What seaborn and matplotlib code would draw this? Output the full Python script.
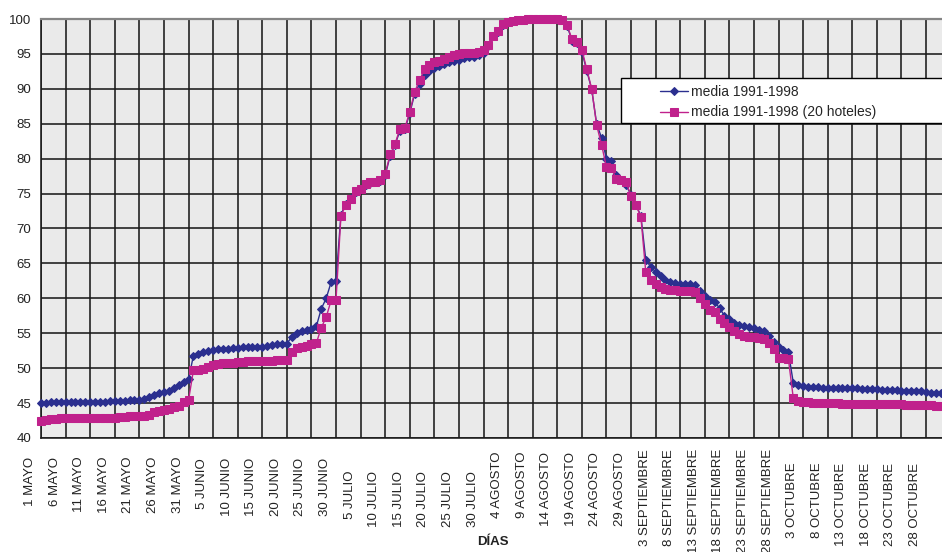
import numpy as np
import pandas as pd
import matplotlib
matplotlib.use('Agg')
import matplotlib.pyplot as plt
import matplotlib.transforms as mtransforms
from matplotlib.patches import Rectangle
import seaborn as sns

# Series names
serie_total = 'media 1991-1998'
serie_hoteles = 'media 1991-1998 (20 hoteles)'

# Daily occupancy, 1 May - 31 October
media_total = [
    # mayo
    45.0, 45.0, 45.1, 45.1, 45.1, 45.1, 45.2, 45.2, 45.2, 45.2,
    45.2, 45.2, 45.2, 45.2, 45.3, 45.3, 45.3, 45.3, 45.4, 45.4,
    45.4, 45.6, 45.8, 46.1, 46.4, 46.6, 46.8, 47.2, 47.6, 48.0,
    48.4,
    # junio
    51.8, 52.0, 52.3, 52.5, 52.6, 52.7, 52.8, 52.8, 52.9, 52.9,
    53.0, 53.0, 53.0, 53.1, 53.1, 53.2, 53.3, 53.4, 53.5, 53.5,
    54.5, 55.1, 55.3, 55.5, 55.6, 56.0, 58.5, 60.0, 62.3, 62.5,
    # julio
    72.0, 73.5, 74.3, 75.2, 75.6, 76.3, 76.5, 76.6, 76.8, 77.6,
    80.4, 82.0, 84.0, 84.2, 86.5, 89.3, 90.7, 92.0, 92.6, 93.0,
    93.3, 93.6, 93.8, 94.0, 94.2, 94.4, 94.5, 94.6, 94.8, 95.2,
    96.1,
    # agosto
    97.5, 98.2, 99.2, 99.5, 99.7, 99.8, 99.9, 100.0, 100.0, 100.0,
    100.0, 100.0, 100.0, 100.0, 99.8, 99.0, 96.9, 96.5, 95.3, 92.6,
    89.9, 85.0, 83.0, 80.0, 79.7, 77.7, 77.0, 76.2, 74.8, 73.4,
    71.8,
    # septiembre
    65.5, 64.5, 63.8, 63.2, 62.6, 62.3, 62.2, 62.1, 62.1, 62.0,
    61.9, 61.1, 60.4, 59.8, 59.5, 58.6, 57.5, 57.0, 56.5, 56.2,
    56.0, 55.9, 55.7, 55.5, 55.3, 54.6, 53.8, 53.1, 52.6, 52.3,
    # octubre
    47.9, 47.6, 47.4, 47.3, 47.3, 47.3, 47.2, 47.2, 47.2, 47.2,
    47.1, 47.1, 47.1, 47.1, 47.0, 47.0, 47.0, 47.0, 46.9, 46.9,
    46.9, 46.9, 46.8, 46.8, 46.8, 46.7, 46.7, 46.6, 46.5, 46.5,
    46.4,
]

media_20_hoteles = [
    # mayo
    42.5, 42.6, 42.7, 42.7, 42.8, 42.8, 42.8, 42.8, 42.8, 42.8,
    42.8, 42.8, 42.8, 42.8, 42.9, 42.9, 43.0, 43.0, 43.1, 43.1,
    43.1, 43.2, 43.3, 43.7, 43.9, 44.0, 44.2, 44.4, 44.6, 45.2,
    45.4,
    # junio
    49.7, 49.8, 49.9, 50.1, 50.4, 50.6, 50.7, 50.8, 50.8, 50.9,
    50.9, 51.0, 51.0, 51.0, 51.0, 51.0, 51.0, 51.1, 51.1, 51.1,
    52.3, 52.9, 53.1, 53.2, 53.4, 53.6, 55.8, 57.3, 59.7, 59.8,
    # julio
    71.8, 73.4, 74.2, 75.3, 75.6, 76.4, 76.6, 76.7, 76.9, 77.8,
    80.6, 82.1, 84.3, 84.4, 86.7, 89.6, 91.2, 92.8, 93.4, 93.8,
    94.0, 94.3, 94.6, 94.9, 95.0, 95.1, 95.2, 95.2, 95.3, 95.6,
    96.3,
    # agosto
    97.6, 98.3, 99.3, 99.5, 99.7, 99.8, 99.9, 100.0, 100.0, 100.0,
    100.0, 100.0, 100.0, 100.0, 99.9, 99.1, 97.1, 96.7, 95.6, 92.8,
    90.0, 84.8, 82.0, 78.8, 78.6, 77.1, 76.9, 76.6, 74.7, 73.3,
    71.7,
    # septiembre
    63.7, 62.6, 62.0, 61.6, 61.3, 61.2, 61.2, 61.1, 61.1, 61.0,
    60.9, 60.0, 59.2, 58.3, 58.0, 57.1, 56.4, 55.9, 55.3, 54.9,
    54.6, 54.5, 54.4, 54.3, 54.2, 53.6, 52.7, 51.5, 51.4, 51.3,
    # octubre
    45.7, 45.3, 45.1, 45.1, 45.0, 45.0, 45.0, 45.0, 45.0, 45.0,
    44.9, 44.9, 44.9, 44.9, 44.9, 44.8, 44.8, 44.8, 44.8, 44.8,
    44.8, 44.8, 44.8, 44.7, 44.7, 44.7, 44.7, 44.7, 44.7, 44.6,
    44.6,
]

# Tick labels every 5 days
etiquetas_dias = [
    '1 MAYO', '6 MAYO', '11 MAYO', '16 MAYO', '21 MAYO', '26 MAYO', '31 MAYO',
    '5 JUNIO', '10 JUNIO', '15 JUNIO', '20 JUNIO', '25 JUNIO', '30 JUNIO',
    '5 JULIO', '10 JULIO', '15 JULIO', '20 JULIO', '25 JULIO', '30 JULIO',
    '4 AGOSTO', '9 AGOSTO', '14 AGOSTO', '19 AGOSTO', '24 AGOSTO', '29 AGOSTO',
    '3 SEPTIEMBRE', '8 SEPTIEMBRE', '13 SEPTIEMBRE', '18 SEPTIEMBRE',
    '23 SEPTIEMBRE', '28 SEPTIEMBRE',
    '3 OCTUBRE', '8 OCTUBRE', '13 OCTUBRE', '18 OCTUBRE', '23 OCTUBRE',
    '28 OCTUBRE',
]

df = pd.DataFrame({
    'dia': np.arange(len(media_total)),
    serie_total: media_total,
    serie_hoteles: media_20_hoteles,
})

azul = '#2B2F8F'
rosa = '#C0218C'

sns.set_style('white', {'axes.facecolor': '#EAEAEA'})
plt.rcParams['font.family'] = ['Liberation Sans', 'DejaVu Sans']

fig = plt.figure(figsize=(9.42, 5.52), dpi=100)
ax = fig.add_axes([41 / 942, 1 - 438 / 552, 901 / 942, 419 / 552])

sns.lineplot(data=df, x='dia', y=serie_total, ax=ax, color=azul, lw=1,
             marker='D', markersize=3.6, markeredgecolor=azul,
             markeredgewidth=0.75, label=serie_total, clip_on=False, zorder=3)
sns.lineplot(data=df, x='dia', y=serie_hoteles, ax=ax, color=rosa, lw=1,
             marker='s', markersize=6, markeredgecolor=rosa,
             markeredgewidth=0.75, label=serie_hoteles, clip_on=False, zorder=4)

handles, labels = ax.get_legend_handles_labels()
ax.get_legend().remove()

ax.set_xlim(0, 183.24)
ax.set_ylim(40, 100)
ax.set_xticks(np.arange(0, len(media_total), 5))
ax.set_xticklabels(etiquetas_dias, rotation=90)
ax.set_yticks(np.arange(40, 101, 5))

ax.set_axisbelow(True)
ax.grid(True, color='#1a1a1a', lw=1.15)
for side in ['left', 'bottom']:
    ax.spines[side].set_color('#1a1a1a')
    ax.spines[side].set_linewidth(1.15)
ax.spines['top'].set_color('#858585')
ax.spines['top'].set_linewidth(1.6)
ax.spines['right'].set_visible(False)

ax.tick_params(axis='both', direction='out', length=3.5, width=1,
               color='#1a1a1a', labelsize=9.5, labelcolor='#222222')
ax.tick_params(axis='y', pad=3.5)
ax.tick_params(axis='x', pad=4.3)

# shift rotated labels left of the tick, and down a bit per month (as in the original)
bajada = {'MAYO': 8, 'JUNIO': 9, 'JULIO': 22, 'AGOSTO': 3,
          'SEPTIEMBRE': 0, 'OCTUBRE': 14}
for lab in ax.get_xticklabels():
    mes = lab.get_text().split()[-1]
    off = mtransforms.ScaledTranslation(-11 / 100, -bajada[mes] / 100,
                                        fig.dpi_scale_trans)
    lab.set_transform(lab.get_transform() + off)

ax.set_ylabel('')
ax.set_xlabel('DÍAS', fontweight='bold', fontsize=9.5, color='#222222')
ax.xaxis.set_label_coords(0.5017, -0.248)
ax.xaxis.label.set_va('center')

# legend box (runs off the right edge like the original)
caja = Rectangle((621 / 942, 1 - 122.5 / 552), 330 / 942, 44.5 / 552,
                 transform=fig.transFigure, facecolor='white',
                 edgecolor='black', lw=1, zorder=4)
fig.add_artist(caja)
fig.legend(handles, labels, loc='upper left',
           bbox_to_anchor=(660 / 942, 1 - 84.5 / 552), frameon=False,
           borderpad=0, borderaxespad=0, fontsize=10, handlelength=2.0,
           handletextpad=0.25, labelspacing=0.5)

fig.savefig('out.png', dpi=100)
